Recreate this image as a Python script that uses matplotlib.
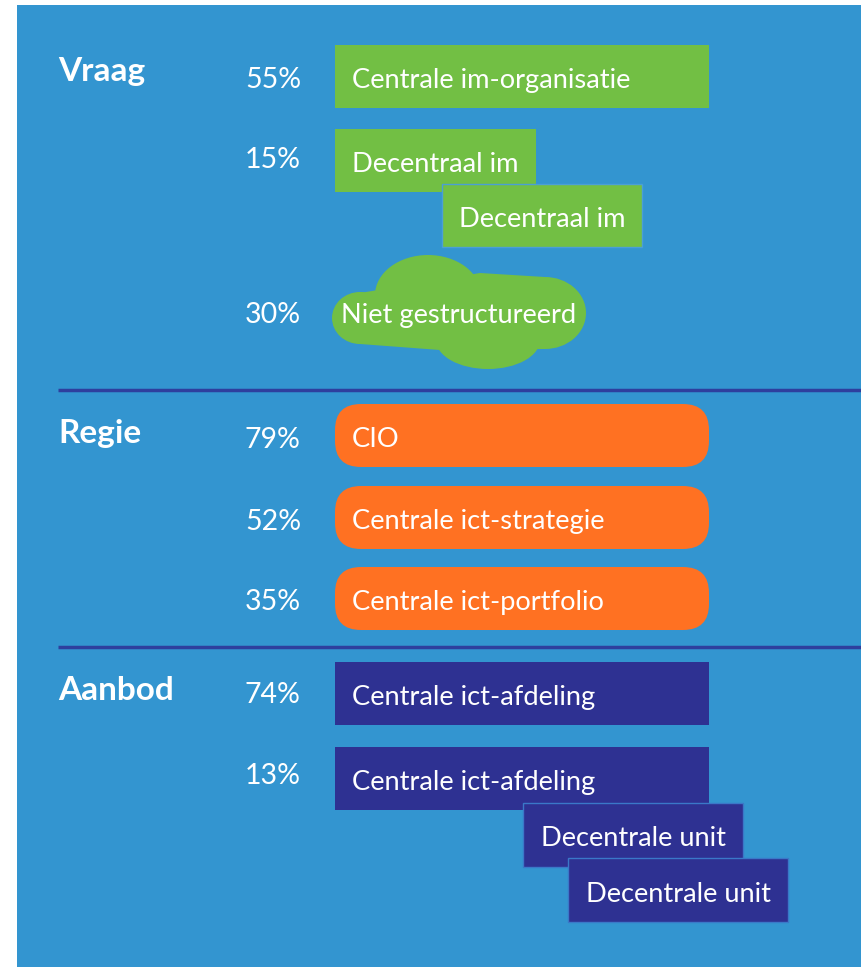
import matplotlib
matplotlib.use("Agg")
import matplotlib.pyplot as plt
from matplotlib.patches import Rectangle, FancyBboxPatch, Ellipse, Polygon

# ---- data ----
sections = ["Vraag", "Regie", "Aanbod"]
vraag_labels = ["Centrale im-organisatie", "Decentraal im", "Niet gestructureerd"]
vraag_pcts = [55, 15, 30]
vraag_extra = ["Decentraal im"]
regie_labels = ["CIO", "Centrale ict-strategie", "Centrale ict-portfolio"]
regie_pcts = [79, 52, 35]
aanbod_labels = ["Centrale ict-afdeling", "Centrale ict-afdeling"]
aanbod_pcts = [74, 13]
aanbod_extra = ["Decentrale unit", "Decentrale unit"]

# ---- style ----
BG = "#3395D0"
GREEN = "#72BF44"
ORANGE = "#FF7122"
NAVY = "#2E3192"
LINE = "#2E3F9E"
FONT = "Lato"
FS = 19.6
PFS = 20.5
HFS = 24

W, H = 861, 967
fig = plt.figure(figsize=(W / 100, H / 100), dpi=100)
ax = fig.add_axes([0, 0, 1, 1])
ax.set_xlim(0, W)
ax.set_ylim(H, 0)
ax.axis("off")

ax.add_patch(Rectangle((17, 5), W - 17, H - 5, facecolor=BG, edgecolor="none", zorder=0))

for y in (390, 647):
    ax.plot([58, W], [y, y], color=LINE, lw=2.5, zorder=1, solid_capstyle="butt")

def txt(x, y, s, size=FS, weight="normal"):
    ax.text(x, y + 2, s, color="white", fontsize=size, fontweight=weight, family=FONT,
            ha="left", va="center", zorder=10)

def rect(x, y, w, h, color, label, edge=None, z=2, tx=17):
    ax.add_patch(Rectangle((x, y), w, h, facecolor=color,
                           edgecolor=edge if edge else "none", lw=1.0, zorder=z))
    txt(x + tx, y + h / 2 + 2, label)

def rrect(x, y, w, h, color, label, z=2):
    ax.add_patch(FancyBboxPatch((x, y), w, h, boxstyle="round,pad=0,rounding_size=26",
                                facecolor=color, edgecolor="none", zorder=z))
    txt(x + 17, y + h / 2 + 2, label)

def pct(y, v):
    txt(PX, y, f"{v}%", PFS)

BX, BW, BH = 335, 374, 63
PX = 245

# Vraag
txt(58, 70, sections[0], HFS, "bold")
rect(BX, 45, BW, BH, GREEN, vraag_labels[0])
pct(78, vraag_pcts[0])
rect(BX, 129, 201, BH, GREEN, vraag_labels[1])
pct(158, vraag_pcts[1])
rect(442, 184, 200, BH, GREEN, vraag_extra[0], edge="#4A9FD6", z=3)
# cloud
for (cx, cy, ew, eh) in [(360, 318, 56, 52), (428, 295, 106, 80),
                         (545, 313, 82, 72), (488, 340, 104, 58)]:
    ax.add_patch(Ellipse((cx, cy), ew, eh, facecolor=GREEN, edgecolor="none", zorder=2))
ax.add_patch(Polygon([(360, 293), (480, 273), (545, 277), (545, 349), (440, 350), (360, 344)],
                     closed=True, facecolor=GREEN, edgecolor="none", zorder=2))
txt(341, 313, vraag_labels[2])
pct(313, vraag_pcts[2])

# Regie
txt(58, 432, sections[1], HFS, "bold")
for lab, v, y in zip(regie_labels, regie_pcts, [404, 486, 567]):
    rrect(BX, y, BW, BH, ORANGE, lab)
    pct(y + BH / 2 + 2, v)

# Aanbod
txt(58, 688, sections[2], HFS, "bold")
rect(BX, 662, BW, BH, NAVY, aanbod_labels[0])
pct(693, aanbod_pcts[0])
rect(BX, 747, BW, BH, NAVY, aanbod_labels[1])
pct(774, aanbod_pcts[1])
rect(523, 803, 220, 64, NAVY, aanbod_extra[0], edge="#3A78C8", z=3, tx=18)
rect(568, 858, 220, 64, NAVY, aanbod_extra[1], edge="#3A78C8", z=4, tx=18)

fig.savefig("out.png", dpi=100, facecolor="white")
